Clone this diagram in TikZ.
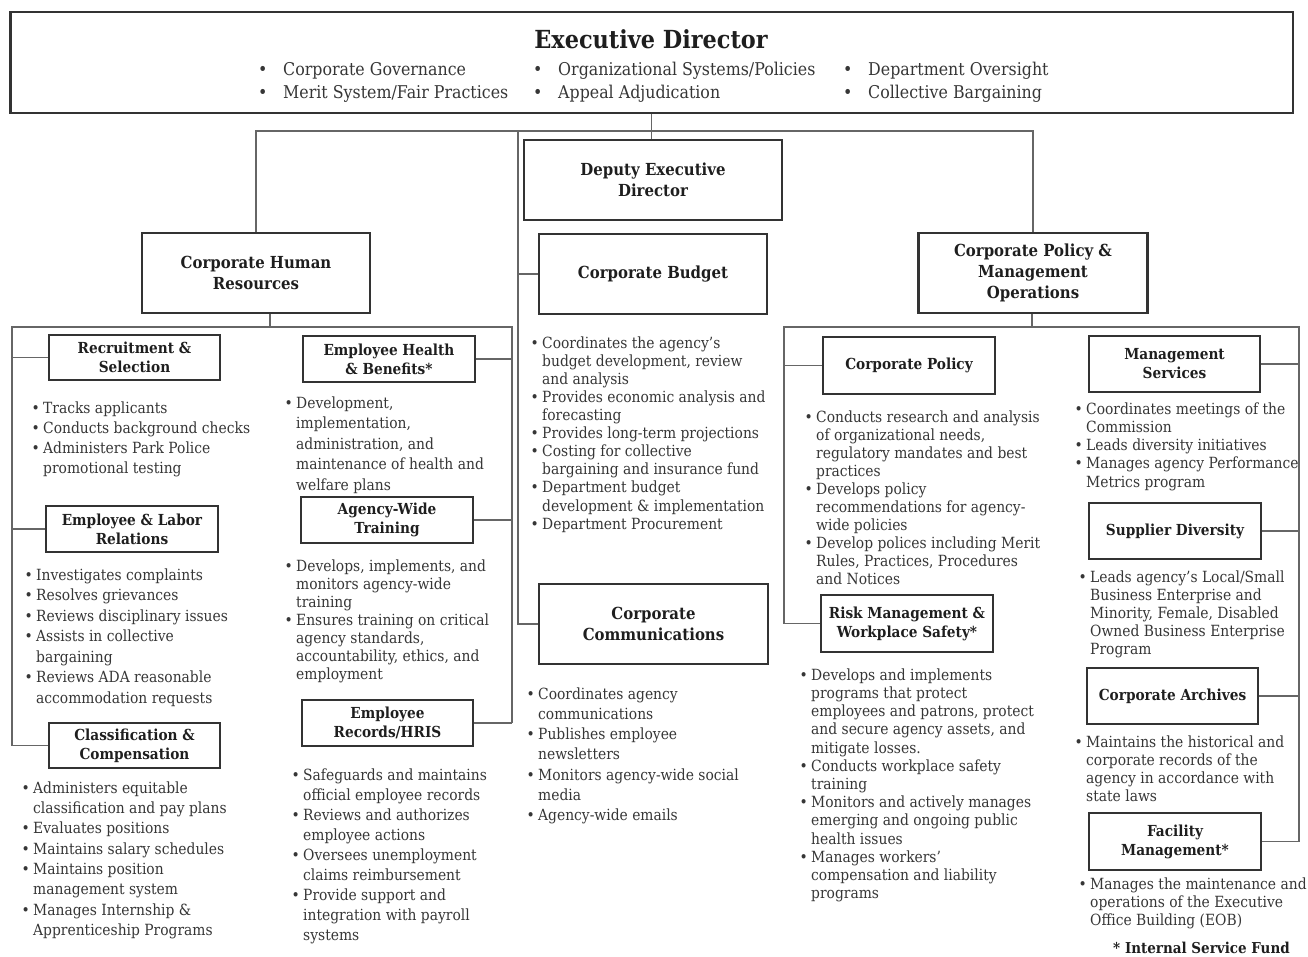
\documentclass[tikz,border=0pt]{standalone}
\usepackage{fontspec}
\setmainfont{DejaVu Serif}[FakeStretch=0.9]
\definecolor{txt}{HTML}{363636}
\definecolor{hd}{HTML}{1E1E1E}
\definecolor{bx}{HTML}{333333}
\definecolor{ln}{HTML}{666666}
\newcommand\bul{\makebox[11.5pt][l]{\textbullet}}
\newcommand\ind{\hspace*{11.5pt}}
\newcommand\edb{\makebox[25pt][l]{\textbullet}}
\tikzset{
 mainbox/.style={draw=bx, line width=2.2pt, inner sep=0pt, align=center, text=hd, font=\fontsize{16.6}{21}\selectfont\bfseries},
 subbox/.style={draw=bx, line width=2pt, inner sep=0pt, align=center, text=hd, font=\fontsize{15.2}{19}\selectfont\bfseries},
 conn/.style={draw=ln, line width=1.4pt},
 blist/.style={anchor=north west, inner sep=0pt, align=left, text=txt, font=\fontsize{15.4}{#1}\selectfont},
 edlist/.style={anchor=north west, inner sep=0pt, align=left, text=txt, font=\fontsize{17.6}{23}\selectfont},
}
\begin{document}
\begin{tikzpicture}[x=1pt,y=-1pt]
\useasboundingbox (0,0) rectangle (1308,956);
% Executive Director
\node[draw=bx, line width=2.2pt, minimum width=1282.5, minimum height=101, inner sep=0pt] (ed) at (651.75,62.5) {};
\node[font=\fontsize{24.9}{28}\selectfont\bfseries, text=hd, inner sep=0pt, anchor=base] (edtitle) at (651,48) {Executive Director};
\node[edlist] (edc1) at (258,58.9) {\strut\edb Corporate Governance\\\edb Merit System/Fair Practices};
\node[edlist] (edc2) at (533,58.9) {\strut\edb Organizational Systems/Policies\\\edb Appeal Adjudication};
\node[edlist] (edc3) at (843,58.9) {\strut\edb Department Oversight\\\edb Collective Bargaining};
% main boxes
\node[mainbox, minimum width=258, minimum height=80] (ded) at (653,180) {Deputy Executive\\Director};
\node[mainbox, minimum width=228, minimum height=80] (chr) at (256,273) {Corporate Human\\Resources};
\node[mainbox, minimum width=228, minimum height=80] (cb) at (653,274) {Corporate Budget};
\node[mainbox, minimum width=229, minimum height=80] (cpmo) at (1033,273) {Corporate Policy \&\\Management\\Operations};
\node[mainbox, minimum width=229, minimum height=80] (cc) at (653.5,624) {Corporate\\Communications};
% sub boxes
\node[subbox, minimum width=171, minimum height=45] (rs) at (134.5,357.5) {Recruitment \&\\Selection};
\node[subbox, minimum width=172, minimum height=46] (ehb) at (389,359) {Employee Health\\\& Benefits*};
\node[subbox, minimum width=172, minimum height=46] (elr) at (132,529) {Employee \& Labor\\Relations};
\node[subbox, minimum width=172, minimum height=46] (awt) at (387,520) {Agency-Wide\\Training};
\node[subbox, minimum width=171, minimum height=45] (cmp) at (134.5,745.5) {Classification \&\\Compensation};
\node[subbox, minimum width=171, minimum height=46] (erh) at (387.5,723) {Employee\\Records/HRIS};
\node[subbox, minimum width=172, minimum height=57] (cp) at (909,365.5) {Corporate Policy};
\node[subbox, minimum width=172, minimum height=57] (rm) at (907,623.5) {Risk Management \&\\Workplace Safety*};
\node[subbox, minimum width=171, minimum height=56] (ms) at (1174.5,364) {Management\\Services};
\node[subbox, minimum width=172, minimum height=56] (sd) at (1175,531) {Supplier Diversity};
\node[subbox, minimum width=171, minimum height=56] (ca) at (1172.5,696) {Corporate Archives};
\node[subbox, minimum width=172, minimum height=57] (fm) at (1175,841.5) {Facility\\Management*};
% lists
\node[blist=20] (rsl) at (31.5,399) {\strut\bul Tracks applicants\\\bul Conducts background checks\\\bul Administers Park Police\\\ind promotional testing};
\node[blist=20.5] (ehbl) at (284.5,393.65) {\strut\bul Development,\\\ind implementation,\\\ind administration, and\\\ind maintenance of health and\\\ind welfare plans};
\node[blist=20.5] (elrl) at (24.5,565.65) {\strut\bul Investigates complaints\\\bul Resolves grievances\\\bul Reviews disciplinary issues\\\bul Assists in collective\\\ind bargaining\\\bul Reviews ADA reasonable\\\ind accommodation requests};
\node[blist=18] (awtl) at (284.5,558.4) {\strut\bul Develops, implements, and\\\ind monitors agency-wide\\\ind training\\\bul Ensures training on critical\\\ind agency standards,\\\ind accountability, ethics, and\\\ind employment};
\node[blist=20.3] (cmpl) at (21.5,778.8) {\strut\bul Administers equitable\\\ind classification and pay plans\\\bul Evaluates positions\\\bul Maintains salary schedules\\\bul Maintains position\\\ind management system\\\bul Manages Internship \&\\\ind Apprenticeship Programs};
\node[blist=20.1] (erhl) at (291.5,765.9) {\strut\bul Safeguards and maintains\\\ind official employee records\\\bul Reviews and authorizes\\\ind employee actions\\\bul Oversees unemployment\\\ind claims reimbursement\\\bul Provide support and\\\ind integration with payroll\\\ind systems};
\node[blist=18.1] (cbl) at (530.5,335.3) {\strut\bul Coordinates the agency’s\\\ind budget development, review\\\ind and analysis\\\bul Provides economic analysis and\\\ind forecasting\\\bul Provides long-term projections\\\bul Costing for collective\\\ind bargaining and insurance fund\\\bul Department budget\\\ind development \& implementation\\\bul Department Procurement};
\node[blist=20.2] (ccl) at (526.5,684.9) {\strut\bul Coordinates agency\\\ind communications\\\bul Publishes employee\\\ind newsletters\\\bul Monitors agency-wide social\\\ind media\\\bul Agency-wide emails};
\node[blist=18] (cpl) at (804.5,409.4) {\strut\bul Conducts research and analysis\\\ind of organizational needs,\\\ind regulatory mandates and best\\\ind practices\\\bul Develops policy\\\ind recommendations for agency-\\\ind wide policies\\\bul Develop polices including Merit\\\ind Rules, Practices, Procedures\\\ind and Notices};
\node[blist=18.2] (rml) at (799.5,667.3) {\strut\bul Develops and implements\\\ind programs that protect\\\ind employees and patrons, protect\\\ind and secure agency assets, and\\\ind mitigate losses.\\\bul Conducts workplace safety\\\ind training\\\bul Monitors and actively manages\\\ind emerging and ongoing public\\\ind health issues\\\bul Manages workers’\\\ind compensation and liability\\\ind programs};
\node[blist=18.25] (msl) at (1074.5,401.2) {\strut\bul Coordinates meetings of the\\\ind Commission\\\bul Leads diversity initiatives\\\bul Manages agency Performance\\\ind Metrics program};
\node[blist=18] (sdl) at (1078.5,569.4) {\strut\bul Leads agency’s Local/Small\\\ind Business Enterprise and\\\ind Minority, Female, Disabled\\\ind Owned Business Enterprise\\\ind Program};
\node[blist=18] (cal) at (1074.5,734.4) {\strut\bul Maintains the historical and\\\ind corporate records of the\\\ind agency in accordance with\\\ind state laws};
\node[blist=18] (fml) at (1078.5,876.4) {\strut\bul Manages the maintenance and\\\ind operations of the Executive\\\ind Office Building (EOB)};
\node[font=\fontsize{15}{18}\selectfont\bfseries, text=hd, inner sep=0pt, anchor=base east] (isf) at (1290,953) {* Internal Service Fund};
% top-level connectors
\coordinate (bus) at (518,131);
\draw[conn] (ed.south) -- (ed.south |- ded.north);
\draw[conn] (chr.north) -- (chr.north |- bus) -- (cpmo.north |- bus) -- (cpmo.north);
\draw[conn] (bus) -- (bus |- cc.west) -- (cc.west);
\draw[conn] (bus |- cb.west) -- (cb.west);
% HR connectors
\coordinate (hrdrop) at (270,327);
\coordinate (hrL) at (12,327);
\coordinate (hrR) at (512,327);
\draw[conn] (hrdrop |- chr.south) -- (hrdrop);
\draw[conn] (hrL |- cmp.west) -- (hrL) -- (hrR) -- (hrR |- erh.east);
\draw[conn] (hrL |- rs.west) -- (rs.west);
\draw[conn] (hrL |- elr.west) -- (elr.west);
\draw[conn] (hrL |- cmp.west) -- (cmp.west);
\draw[conn] (hrR |- ehb.east) -- (ehb.east);
\draw[conn] (hrR |- awt.east) -- (awt.east);
\draw[conn] (hrR |- erh.east) -- (erh.east);
% CPMO connectors
\coordinate (pmdrop) at (1032,327);
\coordinate (pmL) at (784,327);
\coordinate (pmR) at (1299,327);
\draw[conn] (pmdrop |- cpmo.south) -- (pmdrop);
\draw[conn] (pmL |- rm.west) -- (pmL) -- (pmR) -- (pmR |- fm.east);
\draw[conn] (pmL |- cp.west) -- (cp.west);
\draw[conn] (pmL |- rm.west) -- (rm.west);
\draw[conn] (pmR |- ms.east) -- (ms.east);
\draw[conn] (pmR |- sd.east) -- (sd.east);
\draw[conn] (pmR |- ca.east) -- (ca.east);
\draw[conn] (pmR |- fm.east) -- (fm.east);
\end{tikzpicture}
\end{document}
